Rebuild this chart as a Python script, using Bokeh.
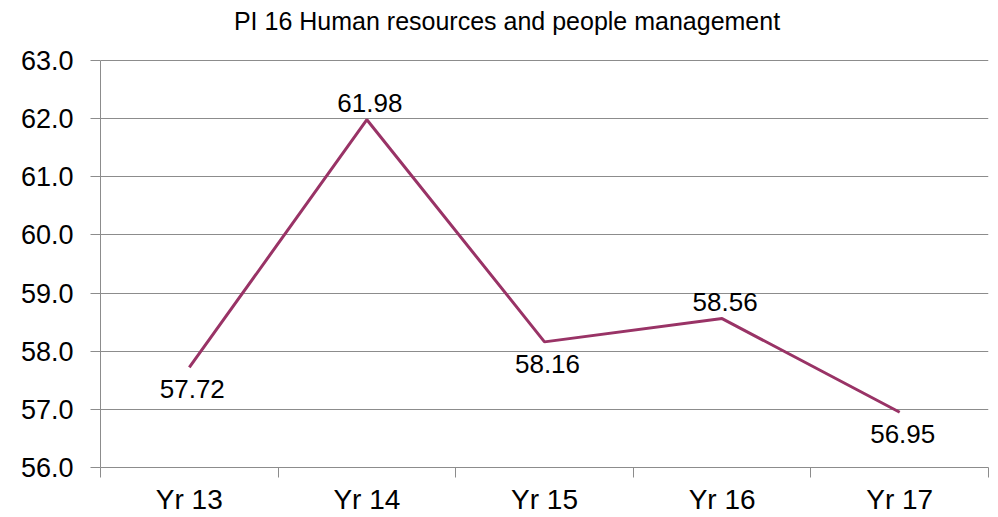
from bokeh.plotting import figure
from bokeh.models import Range1d, FixedTicker, ColumnDataSource, Label
from bokeh.models import NumeralTickFormatter
from bokeh.core.properties import value
from bokeh.embed import file_html
from bokeh.resources import INLINE

title = "PI 16 Human  resources and people management"
categories = ["Yr 13", "Yr 14", "Yr 15", "Yr 16", "Yr 17"]
scores = [57.72, 61.98, 58.16, 58.56, 56.95]
y_ticks = [56, 57, 58, 59, 60, 61, 62, 63]

# style: where each data label sits relative to its point
label_side = ["below", "above", "below", "above", "below"]

FONT = "Liberation Sans"
LINE = "#993366"
GRID = "#8C8C8C"

W, H = 998, 517
LEFT, RIGHT, BOTTOM = 100, 10, 49
PLOT_TOP = 60          # pixel row of the highest gridline
frame_h = H - BOTTOM
ymin, ymax = y_ticks[0], y_ticks[-1]
# the frame reaches the top edge so the title can sit inside it
y_top = ymax + PLOT_TOP * (ymax - ymin) / (frame_h - PLOT_TOP)

n = len(categories)
xs = [i + 0.5 for i in range(n)]

p = figure(width=W, height=H, output_backend="svg", toolbar_location=None,
           x_range=Range1d(0, n), y_range=Range1d(ymin, y_top),
           min_border_left=LEFT, min_border_right=RIGHT, min_border_top=0,
           min_border_bottom=BOTTOM)
p.outline_line_color = None
p.background_fill_color = "white"
p.border_fill_color = "white"

# y axis
p.yaxis.ticker = FixedTicker(ticks=y_ticks)
p.yaxis.bounds = (ymin, ymax)
p.yaxis.formatter = NumeralTickFormatter(format="0.0")
p.yaxis.major_tick_out = 10
p.yaxis.major_tick_in = 0
p.yaxis.minor_tick_out = 0
p.yaxis.minor_tick_in = 0
p.yaxis.axis_line_color = GRID
p.yaxis.major_tick_line_color = GRID
p.yaxis.major_label_text_font = FONT
p.yaxis.major_label_text_font_size = "27px"
p.yaxis.major_label_text_color = "#000000"
p.yaxis.major_label_standoff = 17

# x axis: labels at category centres, tick marks at boundaries
p.xaxis.ticker = FixedTicker(ticks=xs, minor_ticks=list(range(n + 1)))
p.xaxis.major_label_overrides = {x: c for x, c in zip(xs, categories)}
p.xaxis.major_tick_out = 0
p.xaxis.major_tick_in = 0
p.xaxis.minor_tick_out = 10
p.xaxis.minor_tick_in = 0
p.xaxis.minor_tick_line_color = GRID
p.xaxis.axis_line_color = GRID
p.xaxis.major_label_text_font = FONT
p.xaxis.major_label_text_font_size = "28px"
p.xaxis.major_label_text_color = "#000000"
p.xaxis.major_label_standoff = 6

p.xgrid.visible = False
p.ygrid.ticker = FixedTicker(ticks=y_ticks)
p.ygrid.grid_line_color = GRID
p.ygrid.grid_line_width = 1

p.line(xs, scores, line_color=LINE, line_width=3)

for side in ("above", "below"):
    idx = [i for i in range(n) if label_side[i] == side]
    src = ColumnDataSource(dict(x=[xs[i] for i in idx], y=[scores[i] for i in idx],
                                t=["%.2f" % scores[i] for i in idx]))
    p.text(x="x", y="y", text="t", source=src, text_align="center",
           text_baseline="bottom" if side == "above" else "top",
           x_offset=3,
           y_offset=-8 if side == "above" else 13,
           text_font=value(FONT), text_font_size="26px", text_color="#000000")

# chart title (screen units, relative to the plot frame)
p.add_layout(Label(x=410, y=frame_h - 7, x_units="screen", y_units="screen",
                   text=title, text_align="center", text_baseline="top",
                   text_font=FONT, text_font_size="25px", text_color="#000000"))

open("out.html", "w").write(file_html(p, INLINE))
